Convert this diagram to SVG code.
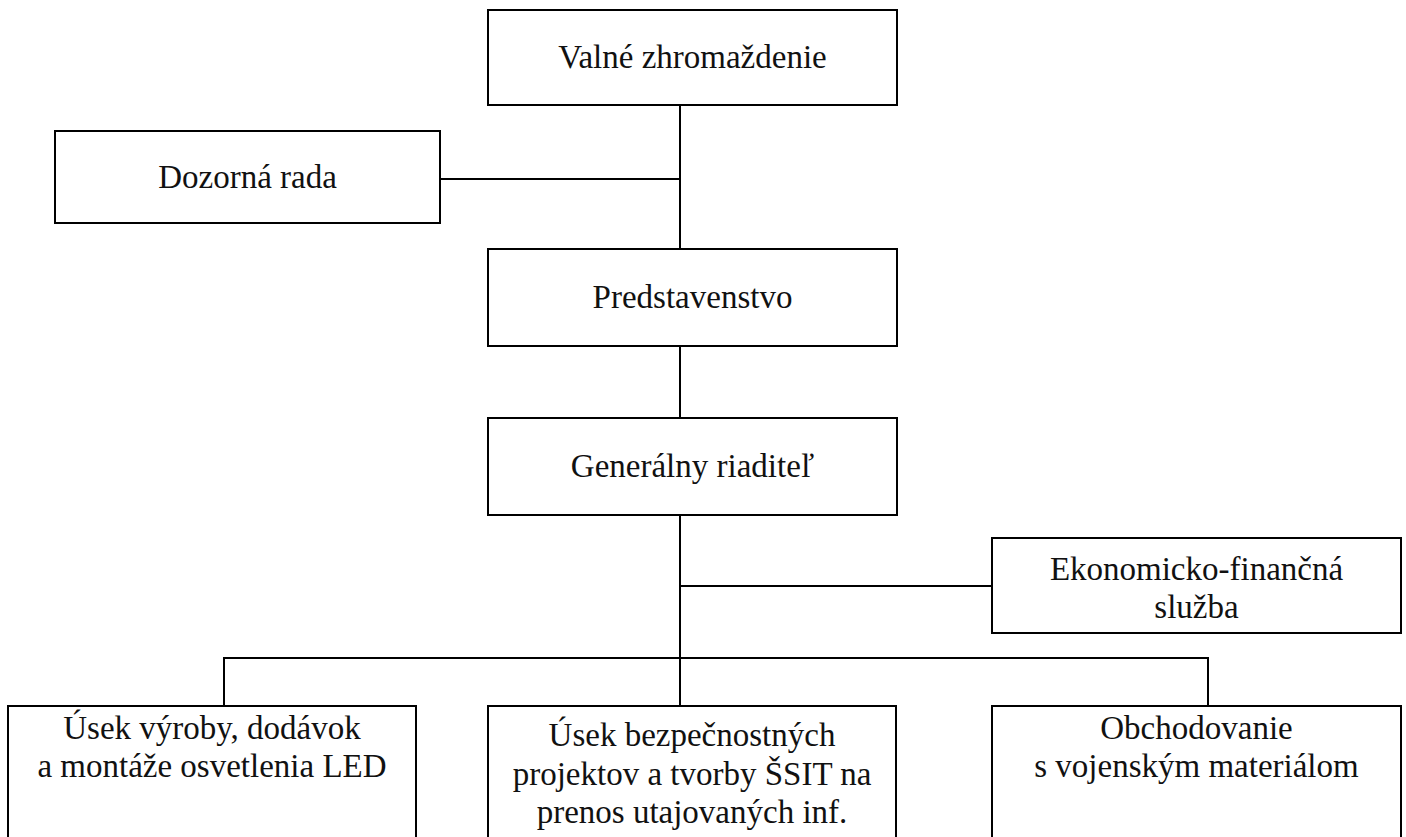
<svg xmlns="http://www.w3.org/2000/svg" width="1406" height="837" viewBox="0 0 1406 837">
<style>
.box{fill:#fff;stroke:#000;stroke-width:2}
.ln{stroke:#000;stroke-width:2;fill:none}
text{font-family:"Liberation Serif","DejaVu Serif",serif;font-size:33px;fill:#111;text-anchor:middle}
</style>
<rect width="1406" height="837" fill="#fff"/>
<g id="connectors">
<line class="ln" x1="680" y1="105" x2="680" y2="249"/>
<line class="ln" x1="440" y1="179" x2="680" y2="179"/>
<line class="ln" x1="680" y1="346" x2="680" y2="418"/>
<line class="ln" x1="680" y1="515" x2="680" y2="706"/>
<line class="ln" x1="680" y1="586" x2="992" y2="586"/>
<polyline class="ln" points="224,706 224,658 1208,658 1208,706"/>
</g>
<g id="n-valne"><rect class="box" x="488" y="10" width="409" height="95"/><text x="692.5" y="68">Valné zhromaždenie</text></g>
<g id="n-dozorna"><rect class="box" x="55" y="131" width="385" height="92"/><text x="247.5" y="188">Dozorná rada</text></g>
<g id="n-predstavenstvo"><rect class="box" x="488" y="249" width="409" height="97"/><text x="692.5" y="308">Predstavenstvo</text></g>
<g id="n-generalny"><rect class="box" x="488" y="418" width="409" height="97"/><text x="692.5" y="477">Generálny riaditeľ</text></g>
<g id="n-ekonomicko"><rect class="box" x="992" y="538" width="409" height="95"/><text x="1196.5" y="580">Ekonomicko-finančná</text><text x="1196.5" y="618">služba</text></g>
<g id="n-usek-led"><rect class="box" x="8" y="706" width="408" height="150"/><text x="212" y="739">Úsek výroby, dodávok</text><text x="212" y="777">a montáže osvetlenia LED</text></g>
<g id="n-usek-bezp"><rect class="box" x="488" y="706" width="408" height="150"/><text x="692" y="746">Úsek bezpečnostných</text><text x="692" y="785">projektov a tvorby ŠSIT na</text><text x="692" y="823">prenos utajovaných inf.</text></g>
<g id="n-obchod"><rect class="box" x="992" y="706" width="409" height="150"/><text x="1196.5" y="739">Obchodovanie</text><text x="1196.5" y="777">s vojenským materiálom</text></g>
</svg>
